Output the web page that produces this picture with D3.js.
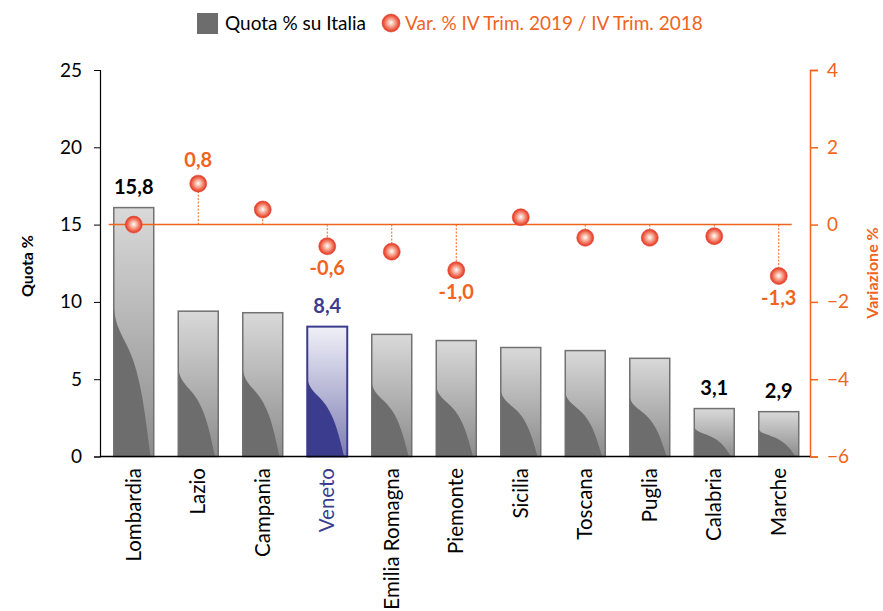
<!DOCTYPE html>
<html>
<head>
<meta charset="utf-8">
<script src="https://d3js.org/d3.v7.min.js"></script>
<style>
  body { margin: 0; background: #fff; }
  text { font-family: Lato, "Open Sans", sans-serif; }
</style>
</head>
<body>
<svg id="chart" width="883" height="611"></svg>
<script>
// data
const regions = ["Lombardia", "Lazio", "Campania", "Veneto", "Emilia Romagna", "Piemonte",
                 "Sicilia", "Toscana", "Puglia", "Calabria", "Marche"];
const quota = [16.1, 9.4, 9.3, 8.4, 7.9, 7.5, 7.05, 6.85, 6.35, 3.1, 2.9];
const quotaLabels = ["15,8", "", "", "8,4", "", "", "", "", "", "3,1", "2,9"];
const variazione = [0.0, 1.06, 0.39, -0.56, -0.7, -1.18, 0.19, -0.34, -0.34, -0.3, -1.33];
const varLabels = ["", "0,8", "", "-0,6", "", "-1,0", "", "", "", "", "-1,3"];
const leftTicks = [0, 5, 10, 15, 20, 25];
const rightTicks = [-6, -4, -2, 0, 2, 4];
const highlight = "Veneto";

const orange = "#F0641E";
const navy = "#3C3C8E";

const svg = d3.select("#chart");

const x = d3.scaleBand()
    .domain(regions)
    .range([101.5, 811])
    .paddingInner(0.38)
    .paddingOuter(0.19);

const y = d3.scaleLinear().domain([0, 25]).range([456.5, 70]);
const y2 = d3.scaleLinear().domain([-6, 4]).range([456.5, 70]);

// gradients
const defs = svg.append("defs");
const gGray = defs.append("linearGradient").attr("id", "gGray")
    .attr("x1", 0).attr("y1", 0).attr("x2", 0).attr("y2", 1);
gGray.append("stop").attr("offset", "0%").attr("stop-color", "#d9d9d9");
gGray.append("stop").attr("offset", "100%").attr("stop-color", "#8c8c8c");

const gNavy = defs.append("linearGradient").attr("id", "gNavy")
    .attr("x1", 0).attr("y1", 0).attr("x2", 0).attr("y2", 1);
gNavy.append("stop").attr("offset", "0%").attr("stop-color", "#f0f0f8");
gNavy.append("stop").attr("offset", "100%").attr("stop-color", "#7d7db4");

const gBall = defs.append("radialGradient").attr("id", "gBall")
    .attr("cx", "50%").attr("cy", "50%").attr("r", "50%")
    .attr("fx", "50%").attr("fy", "48%");
gBall.append("stop").attr("offset", "0%").attr("stop-color", "#ffffff");
gBall.append("stop").attr("offset", "35%").attr("stop-color", "#f8b7a4");
gBall.append("stop").attr("offset", "80%").attr("stop-color", "#ee5740");
gBall.append("stop").attr("offset", "100%").attr("stop-color", "#dc3422");

// bars
const bars = svg.append("g").selectAll("g")
    .data(regions)
    .join("g")
    .attr("transform", d => `translate(${x(d)},${y(quota[regions.indexOf(d)])})`);

bars.each(function(d, i) {
  const g = d3.select(this);
  const w = x.bandwidth();
  const h = y(0) - y(quota[i]);
  const hi = d === highlight;
  g.append("rect")
      .attr("width", w).attr("height", h)
      .attr("fill", hi ? "url(#gNavy)" : "url(#gGray)");
  // dark wave in lower-left part of each bar
  g.append("path")
      .attr("d", `M0,${0.39 * h} C${0.04 * w},${0.5 * h} ${0.3 * w},${0.52 * h} ${0.5 * w},${0.62 * h}
                  C${0.7 * w},${0.72 * h} ${0.78 * w},${0.82 * h} ${0.92 * w},${h} L0,${h} Z`)
      .attr("fill", hi ? navy : "#6d6d6d");
  g.append("rect")
      .attr("width", w).attr("height", h)
      .attr("fill", "none")
      .attr("stroke", hi ? navy : "#727272")
      .attr("stroke-width", hi ? 2 : 1.5);
});

// bar value labels
svg.append("g").selectAll("text")
    .data(regions)
    .join("text")
    .attr("x", d => x(d) + x.bandwidth() / 2)
    .attr("y", (d, i) => y(quota[i]) - 14)
    .attr("text-anchor", "middle")
    .attr("font-size", 20)
    .attr("font-weight", "bold")
    .attr("fill", d => d === highlight ? navy : "#000")
    .text((d, i) => quotaLabels[i]);

// left axis
const yAxis = svg.append("g")
    .attr("transform", "translate(100,0)")
    .call(d3.axisLeft(y).tickValues(leftTicks).tickSize(6).tickPadding(12));
yAxis.select(".domain").attr("stroke", "#000").attr("stroke-width", 1.2);
yAxis.selectAll(".tick line").attr("stroke", "#000");
yAxis.selectAll(".tick text").attr("font-size", 19).attr("fill", "#000")
    .style("font-family", "Lato, sans-serif");

// right axis
const y2Axis = svg.append("g")
    .attr("transform", "translate(810,0)")
    .call(d3.axisRight(y2).tickValues(rightTicks).tickSize(8).tickPadding(9));
y2Axis.select(".domain").attr("stroke", orange).attr("stroke-width", 1.5);
y2Axis.selectAll(".tick line").attr("stroke", orange).attr("stroke-width", 1.5);
y2Axis.selectAll(".tick text").attr("font-size", 19).attr("fill", orange)
    .style("font-family", "Lato, sans-serif");

// base line
svg.append("line")
    .attr("x1", 100).attr("x2", 810)
    .attr("y1", y(0)).attr("y2", y(0))
    .attr("stroke", "#000").attr("stroke-width", 1.5);

// category labels
svg.append("g").selectAll("text")
    .data(regions)
    .join("text")
    .attr("transform", d => `translate(${x(d) + x.bandwidth() / 2 + 7},468) rotate(-90)`)
    .attr("text-anchor", "end")
    .attr("font-size", 20.5)
    .attr("fill", d => d === highlight ? navy : "#000")
    .text(d => d);

// zero line of the variation series
svg.append("line")
    .attr("x1", x(regions[0]) - 5)
    .attr("x2", x(regions[regions.length - 1]) + x.bandwidth() - 7)
    .attr("y1", y2(0)).attr("y2", y2(0))
    .attr("stroke", orange).attr("stroke-width", 1.5);

// drop lines
svg.append("g").selectAll("line")
    .data(regions)
    .join("line")
    .attr("x1", d => x(d) + x.bandwidth() / 2)
    .attr("x2", d => x(d) + x.bandwidth() / 2)
    .attr("y1", y2(0))
    .attr("y2", (d, i) => y2(variazione[i]))
    .attr("stroke", orange)
    .attr("stroke-width", 1)
    .attr("stroke-dasharray", "2,1.5");

// markers
svg.append("g").selectAll("circle")
    .data(regions)
    .join("circle")
    .attr("cx", d => x(d) + x.bandwidth() / 2)
    .attr("cy", (d, i) => y2(variazione[i]))
    .attr("r", 8.5)
    .attr("fill", "url(#gBall)")
    .attr("stroke", "#e24a35")
    .attr("stroke-width", 0.6);

// marker labels
svg.append("g").selectAll("text")
    .data(regions)
    .join("text")
    .attr("x", d => x(d) + x.bandwidth() / 2)
    .attr("y", (d, i) => variazione[i] >= 0 ? y2(variazione[i]) - 17 : y2(variazione[i]) + 29)
    .attr("text-anchor", "middle")
    .attr("font-size", 20)
    .attr("font-weight", "bold")
    .attr("fill", orange)
    .text((d, i) => varLabels[i]);

// axis titles
svg.append("text")
    .attr("transform", "translate(33,266) rotate(-90)")
    .attr("text-anchor", "middle")
    .attr("font-size", 16)
    .attr("font-weight", "bold")
    .text("Quota %");

svg.append("text")
    .attr("transform", "translate(878,273) rotate(-90)")
    .attr("text-anchor", "middle")
    .attr("font-size", 16)
    .attr("font-weight", "bold")
    .attr("fill", orange)
    .text("Variazione %");

// legend
const legend = svg.append("g");
legend.append("rect")
    .attr("x", 197).attr("y", 13).attr("width", 21).attr("height", 21)
    .attr("fill", "#6d6d6d");
legend.append("text")
    .attr("x", 225).attr("y", 30)
    .attr("font-size", 19)
    .text("Quota % su Italia");
legend.append("circle")
    .attr("cx", 391).attr("cy", 23).attr("r", 9)
    .attr("fill", "url(#gBall)")
    .attr("stroke", "#e24a35")
    .attr("stroke-width", 0.6);
legend.append("text")
    .attr("x", 405).attr("y", 30)
    .attr("font-size", 19)
    .attr("fill", orange)
    .text("Var. % IV Trim. 2019 / IV Trim. 2018");
</script>
</body>
</html>
